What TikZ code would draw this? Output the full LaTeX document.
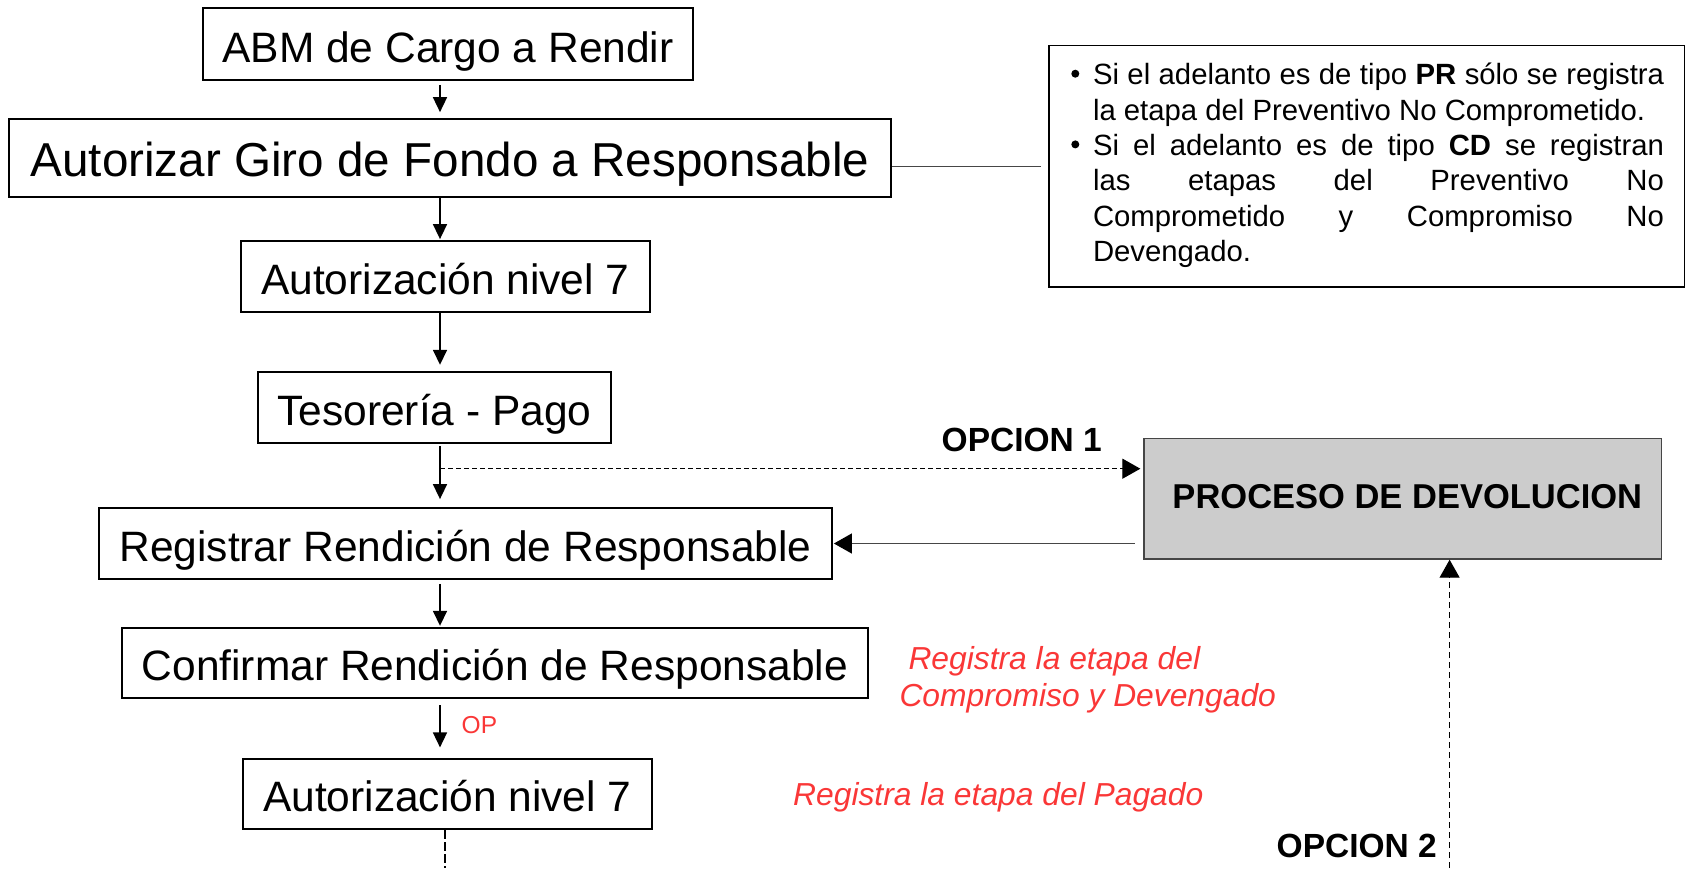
\documentclass[tikz,border=0pt]{standalone}
\usepackage{fontspec}
\setmainfont{Liberation Sans}
\usetikzlibrary{arrows.meta}
\definecolor{redtxt}{RGB}{250,55,55}
\definecolor{pddfill}{RGB}{204,204,204}
\definecolor{thinline}{RGB}{70,70,70}
\begin{document}
\begin{tikzpicture}[x=1pt,y=-1pt,
  flowbox/.style={draw=black,line width=1.8pt,inner sep=0pt,text height=36pt,text depth=0pt,
    font=\fontsize{42.5}{50}\selectfont},
  flowarrow/.style={draw=black,line width=1.6pt,-{Triangle[length=15pt,width=14pt]}},
  bigtip/.style={-{Triangle[length=18pt,width=20pt,color=black,fill=black]}},
  optlabel/.style={inner sep=0pt,font=\bfseries\fontsize{33.5}{40}\selectfont},
  redlabel/.style={inner sep=0pt,text=redtxt,font=\itshape\fontsize{31.8}{38}\selectfont}]
\useasboundingbox (0,0) rectangle (1692,868);
\fill[white] (0,0) rectangle (1692,868);
\coordinate (ax) at (440,0);

% main flow boxes
\node[flowbox,minimum width=490pt,minimum height=71.7pt] (b1) at (448,44.2) {ABM de Cargo a Rendir};
\node[flowbox,minimum width=882pt,minimum height=77.7pt,text height=37.6pt,
  font=\fontsize{47.6}{56}\selectfont] (b2) at (450,157.9) {Autorizar Giro de Fondo a Responsable};
\node[flowbox,minimum width=409.3pt,minimum height=71pt] (b3) at (445.3,276.8) {Autorización nivel 7};
\node[flowbox,minimum width=352.3pt,minimum height=71pt] (b4) at (434.5,407.8) {Tesorería - Pago};
\node[flowbox,minimum width=733pt,minimum height=71pt] (b5) at (465.5,543.5) {Registrar Rendición de Responsable};
\node[flowbox,minimum width=746.3pt,minimum height=70pt,text height=34.8pt] (b6) at (494.9,663.3) {Confirmar Rendición de Responsable};
\node[flowbox,minimum width=408.7pt,minimum height=70pt,text height=34.8pt] (b7) at (447.3,794.3) {Autorización nivel 7};

% note box
\node[draw=black,line width=1.8pt,inner sep=0pt,minimum width=635.5pt,minimum height=241.6pt] (note) at (1366.75,166.2) {};
\node[anchor=base west,inner sep=0pt,text width=571pt,align=justify,
  font=\fontsize{29.3}{35.35}\selectfont] (notetxt) at (1092.8,84.9)
  {\tolerance=10000\hyphenpenalty=10000 Si el adelanto es de tipo \textbf{PR} sólo se registra\linebreak la etapa del Preventivo No Comprometido.\par
   Si el adelanto es de tipo \textbf{CD} se registran\linebreak las etapas del Preventivo No\linebreak Comprometido y Compromiso No\linebreak Devengado.};
\fill[black] (1075.3,73.7) circle[radius=4pt];
\fill[black] (1075.3,144.4) circle[radius=4pt];

% proceso de devolucion
\node[draw=thinline,line width=1.3pt,fill=pddfill,inner sep=0pt,minimum width=517.6pt,minimum height=120.7pt,
  text height=18.6pt,text depth=0pt,font=\bfseries\fontsize{34.5}{40}\selectfont] (pdd) at (1402.8,498.7) {\hspace*{9pt}PROCESO DE DEVOLUCION};

% labels
\node[optlabel,anchor=base east] (op1) at (1102,451) {OPCION 1};
\node[optlabel,anchor=base east] (op2) at (1437,857) {OPCION 2};
\node[redlabel,anchor=base west] (r1) at (908.3,669) {Registra la etapa del};
\node[redlabel,anchor=base west] (r2) at (899.3,706) {Compromiso y Devengado};
\node[redlabel,anchor=base west] (r3) at (793,805) {Registra la etapa del Pagado};
\node[inner sep=0pt,anchor=base west,text=redtxt,font=\fontsize{24.5}{30}\selectfont] (opl) at (461.5,733.3) {OP};

% connectors of the main flow
\draw[flowarrow,shorten <=4pt,shorten >=6pt] (b1.south -| ax) -- (b2.north -| ax);
\draw[flowarrow,shorten >=1.3pt] (b2.south -| ax) -- (b3.north -| ax);
\draw[flowarrow,shorten >=6.6pt] (b3.south -| ax) -- (b4.north -| ax);
\draw[flowarrow,shorten <=1.7pt,shorten >=8pt] (b4.south -| ax) -- (b5.north -| ax);
\draw[flowarrow,shorten <=4pt,shorten >=1.6pt] (b5.south -| ax) -- (b6.north -| ax);
\draw[flowarrow,shorten <=6pt,shorten >=11pt] (b6.south -| ax) -- (b7.north -| ax);

% box2 to note
\draw[thinline,line width=1.2pt,shorten >=7pt] (b2.east |- note.west) -- (note.west);

% option 1 dashed branch
\coordinate (j1) at (440,468.7);
\draw[black,line width=1.1pt,dash pattern=on 5pt off 3pt,bigtip,shorten >=3pt] (j1) -- (j1 -| pdd.west);

% return to Registrar
\draw[thinline,line width=1.2pt,bigtip,shorten <=8.4pt,shorten >=1pt] (b5.east -| pdd.west) -- (b5.east);

% option 2 dashed up arrow
\coordinate (c2) at (1449.6,868);
\draw[black,line width=1.1pt,dash pattern=on 6pt off 4pt,bigtip] (c2) -- (c2 |- pdd.south);

% dashed continuation below last box
\coordinate (c7) at (445,868);
\draw[black,line width=1.6pt,dash pattern=on 9pt off 3pt] (b7.south -| c7) -- (c7);
\end{tikzpicture}
\end{document}
